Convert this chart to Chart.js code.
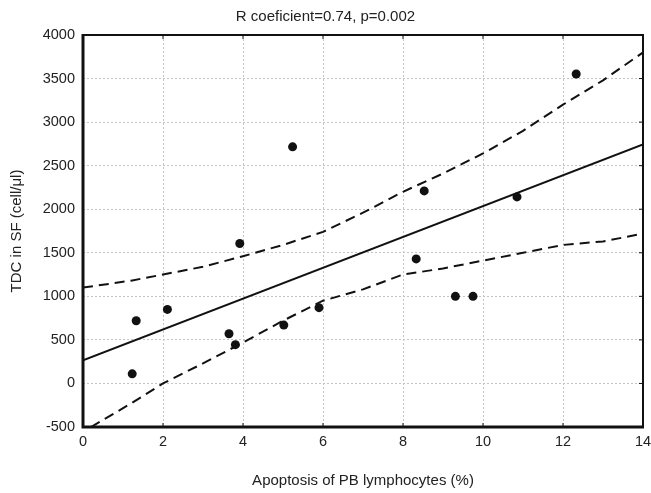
<!DOCTYPE html>
<html>
<head>
<meta charset="utf-8">
<script src="https://cdn.jsdelivr.net/npm/chart.js@4/dist/chart.umd.min.js"></script>
<style>
  html, body { margin: 0; padding: 0; background: #fff; }
  #wrap { width: 651px; height: 493px; }
</style>
</head>
<body>
<div id="wrap"><canvas id="chart" width="651" height="493"></canvas></div>
<script>
// --- data ---
const pointX = [1.23, 1.33, 2.11, 3.65, 3.81, 3.92, 5.02, 5.24, 5.9, 8.33, 8.53, 9.31, 9.75, 10.85, 12.33];
const pointY = [110, 720, 850, 570, 445, 1606, 670, 2716, 870, 1430, 2210, 1000, 1000, 2141, 3552];

const fitX = [0, 14];
const fitY = [265, 2745];

const upperX = [0, 1.2, 2, 3, 4, 5, 6, 7, 8, 9, 10, 11, 12, 13, 14];
const upperY = [1100, 1180, 1250, 1340, 1460, 1590, 1740, 1960, 2200, 2410, 2640, 2900, 3200, 3480, 3800];

const lowerX = [0.2, 1.2, 2, 3, 4, 5, 6, 7, 8, 9, 10, 11, 12, 13, 14];
const lowerY = [-500, -230, 0, 230, 470, 720, 950, 1080, 1250, 1320, 1410, 1500, 1590, 1630, 1720];

const titleText = 'R coeficient=0.74, p=0.002';
const xTitle = 'Apoptosis of PB lymphocytes (%)';
const yTitle = 'TDC in SF (cell/\u03bcl)';

const FONT = "'Liberation Sans', Arial, Helvetica, sans-serif";
const pairs = (xs, ys) => xs.map((x, i) => ({ x: x, y: ys[i] }));

// frame round the plot plus small inward tick marks
const framePlugin = {
    id: 'frame',
    afterDatasetsDraw(chart) {
        const { ctx, chartArea: a, scales: { x, y } } = chart;
        ctx.save();
        ctx.strokeStyle = '#111';
        ctx.lineWidth = 1;
        ctx.beginPath();
        y.ticks.forEach(t => {
            const py = y.getPixelForValue(t.value);
            ctx.moveTo(a.right, py); ctx.lineTo(a.right - 4, py);
        });
        x.ticks.forEach(t => {
            const px = x.getPixelForValue(t.value);
            ctx.moveTo(px, a.bottom); ctx.lineTo(px, a.bottom - 4);
            ctx.moveTo(px, a.top); ctx.lineTo(px, a.top + 4);
        });
        ctx.stroke();
        ctx.lineWidth = 2;
        ctx.strokeRect(a.left, a.top, a.width, a.height);
        ctx.lineWidth = 3;
        ctx.beginPath();
        ctx.moveTo(a.left, a.top - 1);
        ctx.lineTo(a.left, a.bottom);
        ctx.lineTo(a.right + 1, a.bottom);
        ctx.stroke();
        ctx.restore();
    }
};

new Chart(document.getElementById('chart'), {
    type: 'scatter',
    data: {
        datasets: [
            {
                data: pairs(pointX, pointY),
                backgroundColor: '#111',
                borderColor: '#111',
                borderWidth: 0,
                pointRadius: 4.5,
                order: 0
            },
            {
                data: pairs(fitX, fitY),
                showLine: true,
                borderColor: '#111',
                borderWidth: 2,
                pointRadius: 0,
                order: 1
            },
            {
                data: pairs(upperX, upperY),
                showLine: true,
                borderColor: '#111',
                borderWidth: 2,
                borderDash: [10, 6],
                pointRadius: 0,
                order: 1
            },
            {
                data: pairs(lowerX, lowerY),
                showLine: true,
                borderColor: '#111',
                borderWidth: 2,
                borderDash: [10, 6],
                pointRadius: 0,
                order: 1
            }
        ]
    },
    options: {
        responsive: false,
        animation: false,
        layout: { padding: { top: 0, left: 0, right: 0, bottom: 0 } },
        plugins: {
            legend: { display: false },
            tooltip: { enabled: false },
            title: {
                display: true,
                text: titleText,
                color: '#222',
                font: { family: FONT, size: 15, weight: 'normal', lineHeight: 1.2 },
                padding: { top: 8, bottom: 9 }
            }
        },
        scales: {
            x: {
                type: 'linear',
                min: 0, max: 14,
                afterFit: s => { s.height = 66; s.paddingRight = 8; s.paddingLeft = 0; },
                ticks: {
                    stepSize: 2, color: '#222', padding: 6,
                    font: { family: FONT, size: 14.5 },
                    callback: v => String(v)
                },
                grid: { color: '#c4c4c4', lineWidth: 1, drawTicks: false },
                border: { display: false, dash: [2, 2] },
                title: {
                    display: true, text: xTitle, color: '#222',
                    font: { family: FONT, size: 15, lineHeight: 1.2 },
                    padding: { top: 0, bottom: 3 }
                }
            },
            y: {
                type: 'linear',
                min: -500, max: 4000,
                afterFit: s => { s.width = 83; },
                ticks: {
                    stepSize: 500, color: '#222', padding: 8,
                    font: { family: FONT, size: 14.5 },
                    callback: v => String(v)
                },
                grid: { color: '#c4c4c4', lineWidth: 1, drawTicks: false },
                border: { display: false, dash: [2, 2] },
                title: {
                    display: true, text: yTitle, color: '#222',
                    font: { family: FONT, size: 15, lineHeight: 1.2 },
                    padding: { top: 8, bottom: 0 }
                }
            }
        }
    },
    plugins: [framePlugin]
});
</script>
</body>
</html>
